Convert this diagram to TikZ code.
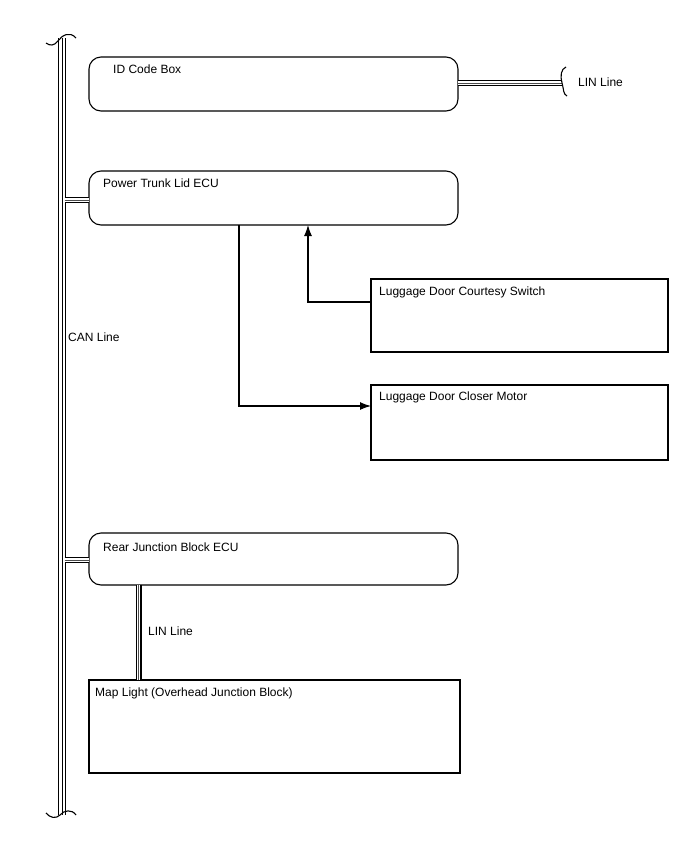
\documentclass[tikz,border=0pt]{standalone}
\usepackage{fontspec}
\setmainfont{Liberation Sans}
\usetikzlibrary{arrows.meta}
\tikzset{
  rbox/.style={draw, line width=1.1pt, rounded corners=12pt, outer sep=0pt, anchor=north west, inner sep=0pt},
  sbox/.style={draw, line width=1.1pt, outer sep=0pt, anchor=north west, inner sep=0pt},
  lbl/.style={font=\fontsize{12}{14}\selectfont, anchor=base west, inner sep=0pt},
  arr/.style={line width=1.1pt, -{Latex[length=11pt,width=8pt]}},
  busline/.style={draw=black, line width=8pt, postaction={draw=white, line width=5.4pt}, postaction={draw=black, line width=0.9pt}},
  brline/.style={draw=black, line width=6pt, postaction={draw=white, line width=3.6pt}, postaction={draw=black!70, line width=0.7pt}},
  endcurl/.style={line width=1.1pt}
}
\begin{document}
\begin{tikzpicture}[x=1pt,y=-1pt]
\useasboundingbox (0,0) rectangle (688,852);

% boxes
\node[rbox, minimum width=369pt, minimum height=54pt] (idb) at (89,57) {};
\node[rbox, minimum width=369pt, minimum height=54pt] (ptl) at (89,171) {};
\node[sbox, minimum width=297pt, minimum height=73pt] (sw) at (371,279) {};
\node[sbox, minimum width=297pt, minimum height=75pt] (mot) at (371,385) {};
\node[rbox, minimum width=369pt, minimum height=52pt] (rjb) at (89,533) {};
\node[sbox, minimum width=371pt, minimum height=93pt] (map) at (89,680) {};

% labels
\node[lbl] (tid) at (113,73) {ID Code Box};
\node[lbl] (tptl) at (103,187) {Power Trunk Lid ECU};
\node[lbl] (tsw) at (379,295) {Luggage Door Courtesy Switch};
\node[lbl] (tmot) at (379,400) {Luggage Door Closer Motor};
\node[lbl] (tcan) at (68,341) {CAN Line};
\node[lbl] (trjb) at (103,551) {Rear Junction Block ECU};
\node[lbl] (tlin2) at (148,635) {LIN Line};
\node[lbl] (tmap) at (95,696) {Map Light (Overhead Junction Block)};
\node[lbl] (tlin1) at (578,86) {LIN Line};

% CAN bus
\coordinate (bt) at (62,38);
\coordinate (bb) at (62,815);
\path[busline] (bt) -- (bb);
\draw[endcurl] (46,43) .. controls (50,46) and (54,46) .. (58,41) .. controls (62,35) and (70,31) .. (76,38);
\draw[endcurl] (46,813) .. controls (50,818) and (56,819) .. (60,815) .. controls (64,810) and (72,809) .. (76,815);

% branches
\coordinate (j1) at (64.5,200);
\coordinate (j2) at (64.5,560);
\path[brline] (j1) -- (j1 -| ptl.west);
\path[brline] (j2) -- (j2 -| rjb.west);

% LIN line to ID box
\coordinate (l1s) at (458,83);
\coordinate (l1e) at (562,83);
\path[brline] (l1s) -- (l1e);
\draw[endcurl] (566,67) .. controls (561,69) and (560,76) .. (562,83) .. controls (564,90) and (563,94) .. (567,96);

% LIN line to map light
\coordinate (l2s) at (138.5,585);
\coordinate (l2e) at (138.5,680);
\path[brline] (l2s) -- (l2e);

% arrows
\coordinate (swo) at (371,302);
\coordinate (a1) at (308,225);
\draw[arr] (swo) -| (a1);
\coordinate (ms) at (239,225);
\coordinate (mi) at (371,406);
\draw[arr] (ms) |- (mi);
\end{tikzpicture}
\end{document}
